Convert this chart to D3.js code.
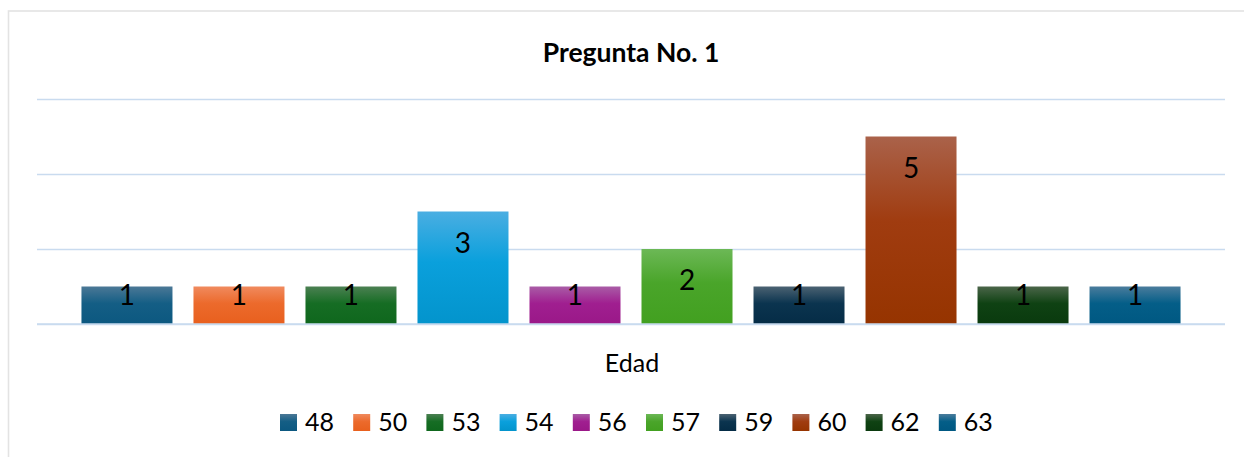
<!DOCTYPE html>
<html>
<head>
<meta charset="utf-8">
<script src="https://cdn.jsdelivr.net/npm/d3@7"></script>
<style>
  body { margin: 0; background: #ffffff; }
  svg { display: block; }
  text { font-family: Lato, "Open Sans", sans-serif; fill: #000; }
</style>
</head>
<body>
<div id="chart"></div>
<script>
// datos
var edades  = ["48", "50", "53", "54", "56", "57", "59", "60", "62", "63"];
var valores = [1, 1, 1, 3, 1, 2, 1, 5, 1, 1];
var ticksY  = [0, 2, 4, 6];
var titulo  = "Pregunta No. 1";
var categoria = "Edad";

// colores (arriba / medio / abajo del degradado)
var coloresArriba = ["#4b7896", "#f08a5e", "#4b8052", "#4aaee2", "#a95ca6", "#6cb856", "#4b6272", "#aa624a", "#4b6549", "#4a7c9c"];
var coloresBase   = ["#145e85", "#ec6a2c", "#166d24", "#0aa0dc", "#a01f90", "#4aa52a", "#0b344f", "#a03c10", "#0f4213", "#045e88"];
var coloresAbajo  = ["#0c5880", "#e8601e", "#0f671d", "#0394cc", "#9a1888", "#42a020", "#052c46", "#963400", "#0a3a0e", "#005882"];

var W = 1244, H = 457;
var margin = {left: 37, right: 19, top: 99, bottom: 133};

var svg = d3.select("#chart").append("svg")
    .attr("width", W)
    .attr("height", H);

var defs = svg.append("defs");
edades.forEach(function(e, i) {
  var g = defs.append("linearGradient")
      .attr("id", "grad" + i)
      .attr("x1", 0).attr("y1", 0).attr("x2", 0).attr("y2", 1);
  g.append("stop").attr("offset", "0%").attr("stop-color", coloresArriba[i]);
  g.append("stop").attr("offset", "45%").attr("stop-color", coloresBase[i]);
  g.append("stop").attr("offset", "100%").attr("stop-color", coloresAbajo[i]);
});

// borde del area del grafico
svg.append("rect")
    .attr("x", 8.5).attr("y", 11)
    .attr("width", W + 20).attr("height", H + 20)
    .attr("fill", "#fff")
    .attr("stroke", "#e3e3e3")
    .attr("stroke-width", 1.6);

var x = d3.scaleBand()
    .domain(edades)
    .range([margin.left, W - margin.right])
    .paddingInner(0.1875)
    .paddingOuter(0.397);

var y = d3.scaleLinear()
    .domain([0, 6])
    .range([H - margin.bottom, margin.top]);

// lineas de cuadricula
var grid = svg.append("g")
    .attr("class", "grid")
    .call(d3.axisLeft(y)
        .tickValues(ticksY)
        .tickSize(-(W - margin.left - margin.right))
        .tickFormat(""))
    .attr("transform", "translate(" + margin.left + ",0)");
grid.select(".domain").remove();
grid.selectAll("line")
    .attr("stroke", "#c9dbef")
    .attr("stroke-width", 1.6);

// barras
svg.append("g").selectAll("rect")
    .data(valores)
    .enter().append("rect")
    .attr("x", function(d, i) { return x(edades[i]); })
    .attr("y", function(d) { return y(d); })
    .attr("width", x.bandwidth())
    .attr("height", function(d) { return y(0) - y(d); })
    .attr("fill", function(d, i) { return "url(#grad" + i + ")"; });

// linea base encima de las barras
svg.append("line")
    .attr("x1", margin.left).attr("x2", W - margin.right)
    .attr("y1", y(0)).attr("y2", y(0))
    .attr("stroke", "#c9dbef")
    .attr("stroke-width", 1.6);

// etiquetas de valor
svg.append("g").selectAll("text")
    .data(valores)
    .enter().append("text")
    .attr("x", function(d, i) { return x(edades[i]) + x.bandwidth() / 2; })
    .attr("y", function(d) {
      var alto = y(0) - y(d);
      return alto < 60 ? y(d) + 18.5 : y(d) + 41;
    })
    .attr("text-anchor", "middle")
    .style("font-size", "28px")
    .text(function(d) { return d; });

// titulo
svg.append("text")
    .attr("x", 631)
    .attr("y", 62)
    .attr("text-anchor", "middle")
    .style("font-size", "26.5px")
    .style("font-weight", "bold")
    .text(titulo);

// nombre de la categoria
svg.append("text")
    .attr("x", 632)
    .attr("y", 372)
    .attr("text-anchor", "middle")
    .style("font-size", "25px")
    .text(categoria);

// leyenda
var pasoLeyenda = 73.2;
var inicioLeyenda = 280;
var leyenda = svg.append("g").selectAll("g")
    .data(edades)
    .enter().append("g")
    .attr("transform", function(d, i) { return "translate(" + (inicioLeyenda + i * pasoLeyenda) + ",431)"; });

leyenda.append("rect")
    .attr("x", 0).attr("y", -17)
    .attr("width", 17).attr("height", 17)
    .attr("fill", function(d, i) { return "url(#grad" + i + ")"; });

leyenda.append("text")
    .attr("x", 25)
    .attr("y", 0)
    .style("font-size", "25px")
    .text(function(d) { return d; });
</script>
</body>
</html>
